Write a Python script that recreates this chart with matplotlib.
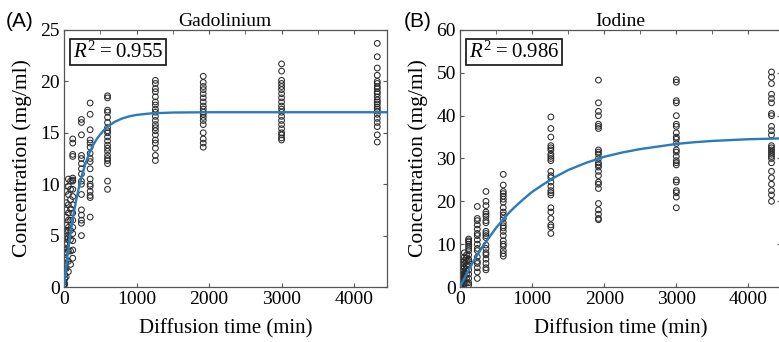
import matplotlib.pyplot as plt
from matplotlib.ticker import MultipleLocator

plt.rcParams['font.family'] = 'Liberation Serif'
plt.rcParams['mathtext.fontset'] = 'custom'
plt.rcParams['mathtext.rm'] = 'Liberation Serif'
plt.rcParams['mathtext.it'] = 'Liberation Serif:italic'

# diffusion times (min) of each measured column
times = [0, 10, 30, 60, 90, 120, 240, 360, 600, 1260, 1920, 3000, 4320]

# Gadolinium concentrations (mg/ml) per column
gd_values = [
    [0, 0.2, 0.5],
    [0.3, 0.8, 1.2, 1.8, 2.3, 2.8, 3.3, 3.8, 4.2, 4.8],
    [1.0, 1.8, 2.6, 3.4, 4.1, 4.9, 5.5, 6.0, 6.8, 7.5, 8.2, 9.3],
    [1.5, 2.5, 3.5, 4.8, 5.5, 5.8, 6.5, 7.2, 8.0, 9.0, 9.8, 10.5],
    [2.2, 3.5, 4.6, 5.5, 6.5, 7.6, 8.5, 9.5, 10.3],
    [2.8, 3.6, 4.5, 5.2, 5.8, 6.5, 7.2, 8.0, 8.8, 9.5, 10.3, 10.4, 10.6, 12.7, 12.9, 14.0, 14.4],
    [5.0, 6.2, 6.5, 7.0, 7.5, 9.0, 10.0, 10.3, 11.0, 11.5, 12.0, 12.5, 12.8, 14.8, 16.0, 16.3],
    [6.8, 8.7, 8.9, 9.3, 9.8, 10.0, 10.5, 11.5, 12.2, 12.5, 13.0, 13.6, 14.0, 14.3, 15.3, 16.8, 17.9],
    [9.5, 10.3, 12.0, 12.3, 12.5, 12.8, 13.2, 13.5, 13.8, 14.2, 14.6, 15.0, 15.2, 15.5, 16.0, 16.5, 17.0,
     17.2, 18.4, 18.6],
    [12.3, 12.8, 13.5, 14.0, 14.3, 14.8, 15.2, 15.5, 15.8, 16.2, 16.6, 17.0, 17.3, 17.7, 18.0, 18.5, 19.0,
     19.3, 19.8, 20.1],
    [13.6, 14.0, 14.4, 15.0, 15.8, 16.2, 16.5, 16.8, 17.0, 17.3, 17.6, 18.0, 18.4, 18.8, 19.2, 19.5, 19.9,
     20.5],
    [14.3, 14.5, 14.8, 15.0, 15.4, 15.8, 16.2, 16.6, 17.0, 17.3, 17.6, 18.0, 18.4, 18.8, 19.2, 19.5, 19.8,
     20.1, 21.0, 21.7],
    [14.1, 14.8, 15.6, 16.0, 16.4, 16.8, 17.1, 17.3, 17.5, 17.8, 18.0, 18.2, 18.5, 18.8, 19.0, 19.3, 19.5,
     19.8, 20.0, 20.6, 21.3, 22.4, 23.7],
]

# Iodine concentrations (mg/ml) per column
io_values = [
    [0, 0.3],
    [0.2, 0.6, 1.0, 1.5, 2.0, 2.5, 3.0],
    [0.5, 1.2, 2.0, 2.8, 3.5, 4.2, 5.0, 5.8],
    [0.8, 1.8, 2.6, 3.5, 4.5, 5.5, 6.2, 7.0, 8.0],
    [1.0, 2.0, 3.0, 4.2, 5.0, 6.0, 6.8, 7.5],
    [0.5, 1.0, 2.0, 3.0, 4.0, 5.0, 6.0, 6.5, 7.5, 8.5, 9.0, 9.5, 10.0, 10.5, 10.8, 11.2],
    [2.0, 3.5, 4.5, 5.5, 6.0, 7.0, 8.5, 9.0, 10.0, 11.0, 12.0, 12.5, 13.5, 14.5, 15.5, 16.0, 18.8],
    [4.0, 4.5, 5.5, 6.5, 7.5, 8.0, 9.0, 9.8, 11.5, 12.0, 12.5, 13.0, 15.0, 15.5, 16.5, 17.0, 17.5, 19.0,
     20.0, 22.3],
    [7.2, 7.8, 8.5, 9.5, 10.0, 10.8, 12.0, 13.0, 13.8, 14.3, 15.0, 16.0, 16.8, 17.5, 18.5, 19.8, 20.5,
     21.2, 21.8, 22.3, 23.8, 26.3],
    [12.5, 14.0, 14.5, 16.0, 17.5, 18.5, 21.5, 22.0, 22.5, 23.5, 24.5, 25.5, 26.0, 27.0, 29.5, 30.0, 30.5,
     31.0, 32.0, 32.5, 33.0, 35.0, 37.0, 39.7],
    [15.7, 16.0, 17.0, 18.0, 19.5, 23.0, 24.0, 24.5, 26.0, 27.0, 28.0, 28.5, 29.0, 30.0, 31.0, 31.5, 32.0,
     37.0, 37.5, 38.0, 40.0, 41.0, 43.0, 48.3],
    [18.5, 21.0, 22.0, 22.5, 24.5, 25.0, 28.5, 29.0, 29.5, 30.5, 31.5, 32.0, 33.5, 34.5, 35.0, 36.0, 37.5,
     38.0, 40.0, 43.0, 43.5, 47.8, 48.4],
    [20.0, 21.5, 22.5, 24.0, 25.5, 27.0, 29.0, 30.0, 30.5, 31.0, 31.5, 32.0, 32.5, 33.0, 35.5, 36.5, 37.5,
     40.0, 40.5, 43.0, 44.0, 45.0, 47.5, 49.0, 50.2],
]

# fitted curves
gd_fit_t = [0, 25, 50, 75, 100, 125, 150, 175, 200, 250, 300, 350, 400, 450, 500, 550, 600, 700, 800,
            900, 1000, 1200, 1500, 2000, 4450]
gd_fit_c = [0, 1.68, 3.20, 4.53, 5.73, 6.82, 7.81, 8.70, 9.53, 10.94, 12.10, 13.04, 13.79, 14.38, 14.85,
            15.26, 15.60, 16.07, 16.39, 16.60, 16.74, 16.89, 16.97, 17.0, 17.0]
io_fit_t = [0, 50, 100, 150, 200, 300, 400, 500, 600, 700, 800, 900, 1000, 1150, 1300, 1500, 1750, 2000,
            2250, 2500, 2750, 3000, 3250, 3500, 3750, 4000, 4250, 4450]
io_fit_c = [0, 1.7, 3.3, 4.9, 6.4, 9.1, 11.5, 13.8, 15.8, 17.7, 19.3, 20.8, 22.2, 23.9, 25.5, 27.3, 29.0,
            30.4, 31.4, 32.2, 32.8, 33.4, 33.8, 34.1, 34.3, 34.5, 34.6, 34.7]

fig = plt.figure(figsize=(7.79, 3.42), dpi=100)


def panel(rect, values, fit_t, fit_c, ymax, ystep, title, r2, letter, letter_x):
    ax = fig.add_axes(rect)
    for t, vals in zip(times, values):
        ax.scatter([t] * len(vals), vals, s=17, facecolors='none', edgecolors='#2a2a2a',
                   linewidths=0.75, zorder=2)
    ax.plot(fit_t, fit_c, color='#2b7bba', lw=1.7, zorder=3)
    ax.set_xlim(0, 4450)
    ax.set_ylim(0, ymax)
    ax.xaxis.set_major_locator(MultipleLocator(1000))
    ax.xaxis.set_minor_locator(MultipleLocator(500))
    ax.yaxis.set_major_locator(MultipleLocator(ystep))
    ax.tick_params(direction='in', top=True, right=True, labelsize=14, length=3, color='#555555', pad=3)
    ax.tick_params(which='minor', direction='in', bottom=False, top=True, length=3, color='#555555')
    for s in ax.spines.values():
        s.set_color('#555555')
        s.set_linewidth(0.9)
    ax.set_xlabel('Diffusion time (min)', fontsize=15, labelpad=8)
    ax.set_ylabel('Concentration (mg/ml)', fontsize=15.5, labelpad=6)
    ax.set_title(title, fontsize=14, pad=3)
    ax.text(0.027, 0.955, r'$R^2$' + '\u2009=\u2009' + r2, transform=ax.transAxes, fontsize=15,
            va='top', ha='left',
            bbox=dict(boxstyle='square,pad=0.12', fc='white', ec='#222222', lw=1.3), zorder=4)
    fig.text(letter_x, 0.965, letter, family='Liberation Sans', fontsize=15, va='top', ha='left')
    return ax


panel([0.0822, 0.1608, 0.4142, 0.7515], gd_values, gd_fit_t, gd_fit_c, 25, 5,
      'Gadolinium', '0.955', '(A)', 0.008)
panel([0.5905, 0.1608, 0.4119, 0.7515], io_values, io_fit_t, io_fit_c, 60, 10,
      'Iodine', '0.986', '(B)', 0.518)

fig.savefig('out.png', dpi=100)
